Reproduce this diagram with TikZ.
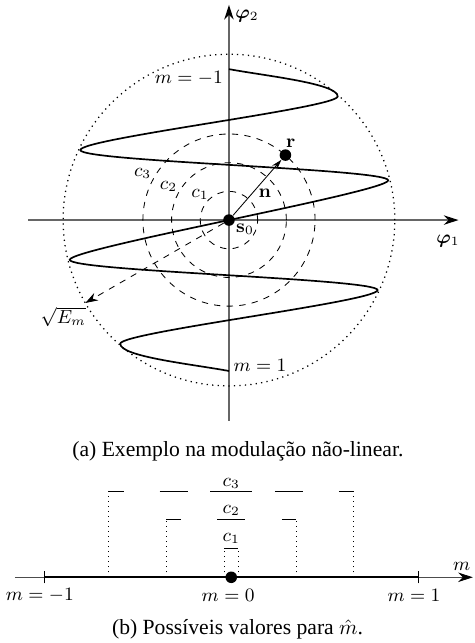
\documentclass[tikz,border=0pt]{standalone}
\usepackage[no-math]{fontspec}
\setmainfont{Liberation Serif}
\usepackage{amsmath,amssymb}
\usepackage{bm}
\usetikzlibrary{arrows.meta}

\begin{document}
\begin{tikzpicture}[scale=0.48,
  every node/.style={font=\fontsize{8.6}{10}\selectfont},
  axis/.style={draw=black!60,line width=0.6pt,-{Stealth[black,length=7pt,width=4.5pt]}},
  ring/.style={dashed,line width=0.4pt},
  bound/.style={line width=0.6pt,dash pattern=on 0.6pt off 2pt},
  dot/.style={circle,fill=black,inner sep=0pt,minimum size=5.5pt},
  curve/.style={line width=0.8pt},
  capt/.style={font=\fontsize{10.3}{12}\selectfont}]
\useasboundingbox(-7.98,7.67)rectangle(8.57,-14.74);

%軸
\draw[axis](-7,0)to(8,0); %横
\draw[axis](0,-7)to(0,7.5); %縦
\node(phi1)at(7.63,-0.72){$\bm{\varphi}_1$};
\node(phi2)at(0.63,7.1){$\bm{\varphi}_2$};

%円
\draw[bound](0,0)circle(5.78);
\foreach \i in {1,2,3} \draw[ring](0,0)circle(\i);
\node(c1)at(-1.01,0.9){$c_1$};
\node(c2)at(-2.11,1.16){$c_2$};
\node(c3)at(-3.01,1.62){$c_3$};

%曲線
\draw[curve](0,5.26)..controls+(1.3,-0.24)and+(0,0.45)..(3.79,4.31)
  ..controls+(0,-0.4)and+(0,0.4)..(-5.18,2.44)
  ..controls+(0,-0.4)and+(0,0.4)..(5.55,1.385)
  ..controls+(0,-0.4)and+(0,0.4)..(-5.55,-1.385)
  ..controls+(0,-0.4)and+(0,0.4)..(5.18,-2.44)
  ..controls+(0,-0.4)and+(0,0.4)..(-3.79,-4.31)
  ..controls+(0,-0.45)and+(-1.3,0.24)..(0,-5.26);
\node(mtop)at(-1.4,4.94){$m=-1$};
\node(mbot)at(1.08,-5.08){$m=1$};

%点とベクトル
\node[dot](s0)at(0,0){};
\node[dot](r)at(49:3){};
\node(rl)at(2.15,2.69){$\mathbf{r}$};
\node(s0l)at(0.56,-0.33){$\mathbf{s}_0$};
\draw[-{Stealth[length=5pt,width=3pt]}](s0)to node[pos=0.5,anchor=north west,inner sep=0.5pt]{$\mathbf{n}$}(r);
\coordinate(Em)at(210:5.78);
\draw[dashed,-{Stealth[length=6pt,width=4pt]}](s0)to(Em);
\node(Eml)at(-5.77,-3.37){$\sqrt{E_m}$};

\node[capt](capa)at(0.31,-8.07){(a) Exemplo na modulação não-linear.};

%(b) 数直線
\begin{scope}[shift={(0.08,-12.45)}]
\draw[black!70,-{Stealth[black,length=7pt,width=4.5pt]}](-7.54,0)to(8.42,0);
\draw[line width=1.1pt](-6.52,0)to(6.52,0);
\draw(-6.52,-0.21)to(-6.52,0.21); %m=-1
\draw(6.52,-0.21)to(6.52,0.21); %m=1
\node[dot](m0)at(0,0){};
\node(lm)at(8.03,0.37){$m$};
\node(lneg)at(-6.67,-0.62){$m=-1$};
\node(lzero)at(-0.11,-0.62){$m=0$};
\node(lpos)at(6.37,-0.62){$m=1$};

%区間
\draw[dotted](-0.25,0)to(-0.25,1);
\draw[dotted](0.25,0)to(0.25,1);
\draw(-0.25,1)to(0.25,1);
\node(b1)at(0,1.36){$c_1$};

\draw[dotted](-2.26,0)to(-2.26,2);
\draw[dotted](2.26,0)to(2.26,2);
\draw(-2.26,2)to(-1.76,2);
\draw(-0.49,2)to(0.49,2);
\draw(1.76,2)to(2.26,2);
\node(b2)at(0,2.32){$c_2$};

\draw[dotted](-4.27,0)to(-4.27,3);
\draw[dotted](4.27,0)to(4.27,3);
\draw(-4.27,3)to(-3.75,3);
\draw(-2.5,3)to(-1.52,3);
\draw(-0.74,3)to(0.74,3);
\draw(1.52,3)to(2.5,3);
\draw(3.75,3)to(4.27,3);
\node(b3)at(0,3.28){$c_3$};
\end{scope}

\node[capt](capb)at(0.3,-14.26){(b) Possíveis valores para $\hat{m}$.};
\end{tikzpicture}
\end{document}
